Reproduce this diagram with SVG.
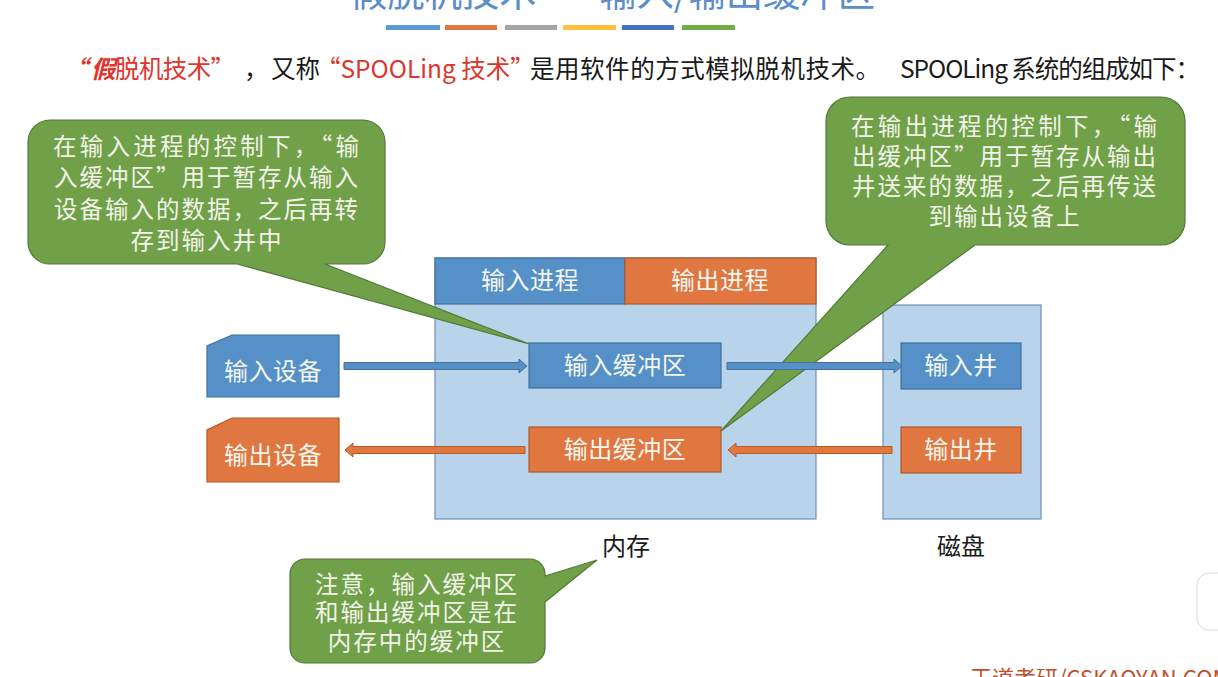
<svg xmlns="http://www.w3.org/2000/svg" width="1218" height="677" viewBox="0 0 1218 677">
<style>
text{font-family:"Noto Sans CJK SC","Noto Sans",sans-serif;}
.blue{fill:#5590C8;stroke:#41719C;stroke-width:1.2;}
.orange{fill:#E07741;stroke:#B05A28;stroke-width:1.2;}
.light{fill:#B8D3EA;stroke:#6E8FB5;stroke-width:1.2;}
.green{fill:#70A048;stroke:#52793A;stroke-width:1.2;}
.wt{fill:#F4F6EE;font-size:24px;text-anchor:middle;letter-spacing:0.5px;}
.ct{fill:#F2F4EA;font-size:23.5px;text-anchor:middle;letter-spacing:2px;}
.lbl{fill:#1A1A1A;font-size:24px;text-anchor:middle;}
.arrB{fill:#5590C8;stroke:#41719C;stroke-width:1;}
.arrO{fill:#E07741;stroke:#B05A28;stroke-width:1;}
.red{fill:#E0342C;}
</style>
<rect width="1218" height="677" fill="#FFFFFF"/>
<g id="title">
<text x="350" y="6" font-size="38" fill="#5B8DC6" textLength="525" lengthAdjust="spacingAndGlyphs">假脱机技术——输入/输出缓冲区</text>
<rect x="386" y="25" width="54" height="5" fill="#5B9BD5"/>
<rect x="445" y="25" width="52" height="5" fill="#E07741"/>
<rect x="505" y="25" width="52" height="5" fill="#A5A5A5"/>
<rect x="563" y="25" width="53" height="5" fill="#FFC040"/>
<rect x="622" y="25" width="52" height="5" fill="#4472C4"/>
<rect x="682" y="25" width="53" height="5" fill="#70AD47"/>
</g>
<g id="intro" font-size="24.5" fill="#1A1A1A">
<text x="63" y="78" class="red" font-style="italic" font-weight="bold">“</text>
<text x="91" y="78" class="red" font-style="italic" font-weight="bold">假</text>
<text x="115" y="78" class="red" textLength="120" lengthAdjust="spacing">脱机技术”</text>
<text x="244" y="78">，</text>
<text x="271" y="78" textLength="49" lengthAdjust="spacing">又称</text>
<text x="316" y="78" class="red">“SPOOLing 技术”</text>
<text x="530" y="78" textLength="350" lengthAdjust="spacing">是用软件的方式模拟脱机技术。</text>
<text x="900" y="78" textLength="300" lengthAdjust="spacing">SPOOLing 系统的组成如下：</text>
</g>
<g id="memory">
<rect class="light" x="435" y="258" width="381" height="261"/>
<text class="lbl" x="626" y="555">内存</text>
</g>
<g id="input-process">
<rect class="blue" x="435" y="258" width="190" height="46"/>
<text class="wt" x="530" y="289">输入进程</text>
</g>
<g id="output-process">
<rect class="orange" x="625" y="258" width="191" height="46"/>
<text class="wt" x="720" y="289">输出进程</text>
</g>
<g id="input-buffer">
<rect class="blue" x="529" y="343" width="192" height="45"/>
<text class="wt" x="625" y="374">输入缓冲区</text>
</g>
<g id="output-buffer">
<rect class="orange" x="529" y="427" width="192" height="45"/>
<text class="wt" x="625" y="458">输出缓冲区</text>
</g>
<g id="disk">
<rect class="light" x="883" y="305" width="158" height="214"/>
<text class="lbl" x="961" y="555">磁盘</text>
</g>
<g id="input-well">
<rect class="blue" x="901" y="343" width="120" height="46"/>
<text class="wt" x="961" y="374">输入井</text>
</g>
<g id="output-well">
<rect class="orange" x="901" y="427" width="120" height="46"/>
<text class="wt" x="961" y="458">输出井</text>
</g>
<g id="input-device">
<path class="blue" d="M232,335 H339 V397 H207 V346 Z"/>
<text class="wt" x="273" y="380">输入设备</text>
</g>
<g id="output-device">
<path class="orange" d="M232,418 H339 V482 H207 V430 Z"/>
<text class="wt" x="273" y="464">输出设备</text>
</g>
<g id="callout-input">
<path class="green" d="M50,120 H363 A22,22 0 0 1 385,142 V242 A22,22 0 0 1 363,264 H325 L529,344 L237,264 H50 A22,22 0 0 1 28,242 V142 A22,22 0 0 1 50,120 Z"/>
<text class="ct" x="207" y="155" textLength="308" lengthAdjust="spacing">在输入进程的控制下，“输</text>
<text class="ct" x="207" y="186">入缓冲区”用于暂存从输入</text>
<text class="ct" x="207" y="218">设备输入的数据，之后再转</text>
<text class="ct" x="207" y="249">存到输入井中</text>
</g>
<g id="callout-output">
<path class="green" d="M850,97 H1161 A24,24 0 0 1 1185,121 V221 A24,24 0 0 1 1161,245 H975 L721,431 L888,245 H850 A24,24 0 0 1 826,221 V121 A24,24 0 0 1 850,97 Z"/>
<text class="ct" x="1005" y="135" textLength="308" lengthAdjust="spacing">在输出进程的控制下，“输</text>
<text class="ct" x="1005" y="165">出缓冲区”用于暂存从输出</text>
<text class="ct" x="1005" y="195">井送来的数据，之后再传送</text>
<text class="ct" x="1005" y="225">到输出设备上</text>
</g>
<g id="callout-note">
<path class="green" d="M305,559 H530 A15,15 0 0 1 545,574 V576 L597,560 L545,602 V648 A15,15 0 0 1 530,663 H305 A15,15 0 0 1 290,648 V574 A15,15 0 0 1 305,559 Z"/>
<text class="ct" x="417" y="593">注意，输入缓冲区</text>
<text class="ct" x="417" y="621">和输出缓冲区是在</text>
<text class="ct" x="417" y="650">内存中的缓冲区</text>
</g>
<g id="connectors">
<path class="arrB" d="M344,362.5 H519 V359 L527,366 L519,373 V369.5 H344 Z"/>
<path class="arrB" d="M727,362.5 H894 V359 L902,366 L894,373 V369.5 H727 Z"/>
<path class="arrO" d="M892,446.5 H736 V443 L728,450 L736,457 V453.5 H892 Z"/>
<path class="arrO" d="M525,446.5 H353 V443 L345,450 L353,457 V453.5 H525 Z"/>
</g>
<g id="overlay">
<path d="M1230,573 H1209 A12,12 0 0 0 1197,585 V618 A12,12 0 0 0 1209,630 H1230 Z" fill="#FFFFFF" stroke="#D8D8D8" stroke-width="1"/>
<text x="970" y="686" font-size="22" fill="#C0502A" font-family="Roboto,'Noto Sans CJK SC',sans-serif">王道考研/CSKAOYAN.COM</text>
</g>
</svg>
